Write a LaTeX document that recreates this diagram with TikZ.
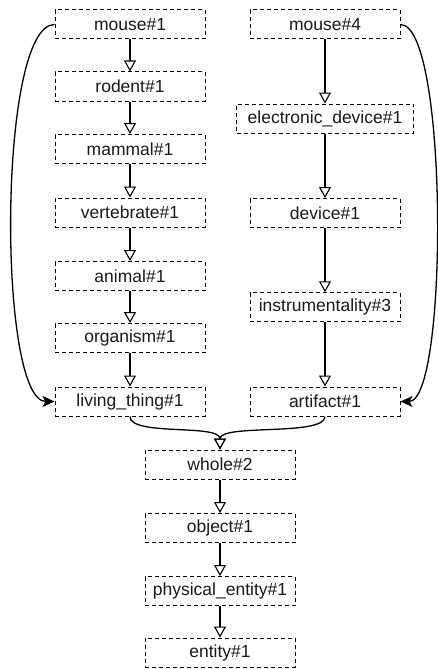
\documentclass[tikz,border=0pt]{standalone}
\usepackage{fontspec}
\setmainfont{Liberation Sans}
\usetikzlibrary{arrows.meta}
\definecolor{txt}{HTML}{1A1A1A}
\begin{document}
\begin{tikzpicture}[x=1pt,y=-1pt,
  box/.style={draw, dash pattern=on 4pt off 3pt, line width=1pt, minimum width=150pt,
    minimum height=29pt, inner sep=0pt, font=\fontsize{17.5}{20}\selectfont, text=txt},
  isa/.style={line width=1.3pt, -{Triangle[open,length=11pt,width=12pt,line width=1.1pt]}},
  link/.style={line width=1.3pt, -{Stealth[length=12pt,width=11pt,inset=3pt]}}]
\useasboundingbox (0,0) rectangle (438,669);
% left column
\node[box] (m1)  at (130,24.5)  {mouse\#1};
\node[box] (rod) at (130,86.5)  {rodent\#1};
\node[box] (mam) at (130,149)   {mammal\#1};
\node[box] (ver) at (130,212.5) {vertebrate\#1};
\node[box] (ani) at (130,276)   {animal\#1};
\node[box] (org) at (130,338)   {organism\#1};
\node[box] (lt)  at (130,401.5) {living\_thing\#1};
% right column
\node[box] (m4)  at (325,24.5)   {mouse\#4};
\node[box, minimum width=177pt] (ed) at (325,118.5) {electronic\_device\#1};
\node[box] (dev) at (325,213)    {device\#1};
\node[box] (ins) at (325,307.25) {instrumentality\#3};
\node[box] (art) at (325,401.5)  {artifact\#1};
% bottom column
\node[box] (who) at (220,464.5) {whole\#2};
\node[box] (obj) at (220,528)   {object\#1};
\node[box] (phy) at (220,591)   {physical\_entity\#1};
\node[box] (ent) at (220,652.5) {entity\#1};
% is-a edges
\foreach \a/\b in {m1/rod,rod/mam,mam/ver,ver/ani,ani/org,org/lt,
                   m4/ed,ed/dev,dev/ins,ins/art,
                   who/obj,obj/phy,phy/ent}
  \draw[isa] (\a.south) -- (\b.north);
\draw[isa] (lt.south) .. controls +(0,20) and +(0,-26) .. (who.north);
\draw[isa] (art.south) .. controls +(0,20) and +(0,-26) .. (who.north);
% sense links
\draw[link] (m1.west) .. controls +(-57,0) and +(-57,0) .. (lt.west);
\draw[link] (m4.east) .. controls +(48,0) and +(48,0) .. (art.east);
\end{tikzpicture}
\end{document}
